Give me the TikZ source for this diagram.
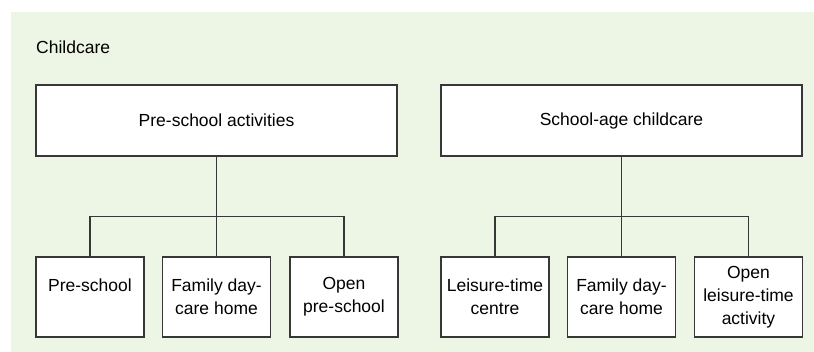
\documentclass[tikz,border=0pt]{standalone}
\usepackage{fontspec}
\setmainfont{Liberation Sans}
\usepackage{tikz}

\definecolor{bggreen}{RGB}{237,245,229}
\definecolor{linegray}{RGB}{55,55,55}

\begin{document}
\begin{tikzpicture}[x=1pt,y=-1pt,
  box/.style={draw=linegray, line width=1.3pt, fill=white, align=center, inner sep=2pt,
    font=\fontsize{17.5}{23}\selectfont},
  topbox/.style={box, minimum width=361pt, minimum height=71pt},
  subbox/.style={box, minimum width=108pt, minimum height=80pt},
  link/.style={draw=linegray, line width=1.3pt}]

\useasboundingbox (0,0) rectangle (814,352);
\fill[bggreen] (11,12) rectangle (814,352);

\node[anchor=west, inner sep=0pt, font=\fontsize{17.5}{23}\selectfont] at (36,47) (title) {Childcare};

\node[topbox] at (216.5,120.5) (pre) {Pre-school activities};
\node[topbox] at (621.5,120.5) (sac) {School-age childcare};

% pre-school branch
\node[subbox] at (90,297) (ps) {Pre-school\\\mbox{}};
\node[subbox] at (216.5,297) (fdl) {Family day-\\care home};
\node[subbox] at (344,297) (ops) {Open\\pre-school};

% school-age branch
\node[subbox] at (495,297) (ltc) {Leisure-time\\centre};
\node[subbox] at (621.5,297) (fdr) {Family day-\\care home};
\node[subbox] at (748.5,297) (olt) {Open\\leisure-time\\activity};

\draw[link] (pre.south) -- (fdl.north);
\draw[link] (ps.north) -- ++(0,-40) -| (ops.north);

\draw[link] (sac.south) -- (fdr.north);
\draw[link] (ltc.north) -- ++(0,-40) -| (olt.north);

\end{tikzpicture}
\end{document}
